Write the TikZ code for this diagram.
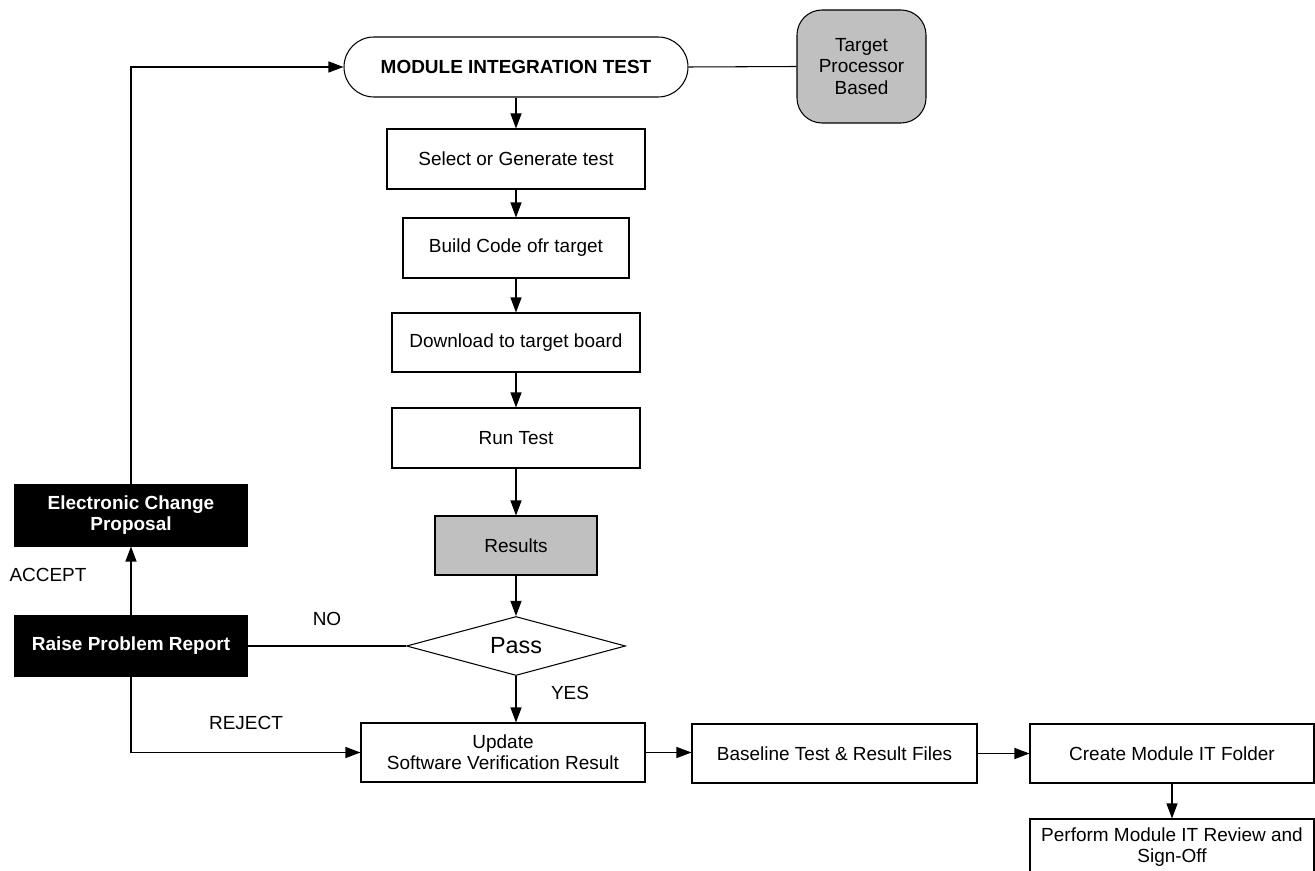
\documentclass[tikz,border=0pt]{standalone}
\usepackage{fontspec}
\setmainfont{Liberation Sans}
\usetikzlibrary{shapes.geometric,arrows.meta}
\definecolor{boxgray}{HTML}{C0C0C0}
\begin{document}
\begin{tikzpicture}[x=0.02cm,y=-0.02cm,
  font=\fontsize{10.8}{12}\selectfont,
  line width=0.6pt,
  sz/.style 2 args={minimum width=#1*0.02cm, minimum height=#2*0.02cm},
  box/.style={draw, rectangle, align=center, inner sep=0pt},
  graybox/.style={box, fill=boxgray},
  blackbox/.style={box, fill=black, text=white, font=\fontsize{10.8}{12}\selectfont\bfseries},
  terminal/.style={box, rounded corners=0.6cm, font=\fontsize{10.8}{12}\selectfont\bfseries},
  decision/.style={draw, diamond, inner sep=0pt, font=\fontsize{13.3}{15}\selectfont},
  lbl/.style={inner sep=0pt},
  flow/.style={-{Triangle[length=0.3cm, width=0.22cm]}},
]
\useasboundingbox (0,0) rectangle (1315,871);

% main column
\node[terminal, sz={344}{60}] (mit) at (516,67) {MODULE INTEGRATION TEST};
\node[graybox, rounded corners=0.5cm, sz={129}{113}] (tpb) at (861.5,66.5) {Target\\Processor\\Based};
\node[box, sz={258}{60}] (sel) at (516,159) {Select or Generate test};
\node[box, sz={226}{60}] (build) at (516,248) {Build Code ofr target};
\node[box, sz={248}{59}] (down) at (516,342.5) {Download to target board};
\node[box, sz={248}{60}] (run) at (516,438) {Run Test};
\node[graybox, sz={162}{59}] (res) at (516,545.5) {Results};
\node[decision, sz={219}{59}, aspect=3.7] (pass) at (516,646) {Pass};

% problem handling
\node[blackbox, sz={232}{61}] (ecp) at (131,515.5) {Electronic Change\\Proposal};
\node[blackbox, sz={232}{60}] (rpr) at (131,646) {Raise Problem Report};

% bottom row
\node[box, sz={284}{59}] (upd) at (503,752.5) {Update\\Software Verification Result};
\node[box, sz={285}{59}] (base) at (834.5,753.5) {Baseline Test \& Result Files};
\node[box, sz={284}{59}] (create) at (1172,753.5) {Create Module IT Folder};
\node[box, sz={284}{57}] (perf) at (1172,847.5) {Perform Module IT Review and\\Sign-Off};

% labels
\node[lbl] (lacc) at (48,575) {ACCEPT};
\node[lbl] (lno) at (327,619) {NO};
\node[lbl] (lyes) at (570,693) {YES};
\node[lbl] (lrej) at (246,723) {REJECT};

% connectors
\draw (mit.east) -- (tpb.west);
\draw[flow] (mit.south) -- (sel.north);
\draw[flow] (sel.south) -- (build.north);
\draw[flow] (build.south) -- (down.north);
\draw[flow] (down.south) -- (run.north);
\draw[flow] (run.south) -- (res.north);
\draw[flow] (res.south) -- (pass.north);
\draw[flow] (pass.south) -- (pass.south |- upd.north);
\draw (rpr.east) -- (pass.west);
\draw[flow] (rpr.north -| ecp.south) -- (ecp.south);
\draw[flow] (ecp.north) -- (ecp.north |- mit.west) -- (mit.west);
\draw[flow] (rpr.south) -- (rpr.south |- upd.west) -- (upd.west);
\draw[flow] (upd.east) -- (upd.east -| base.west);
\draw[flow] (base.east) -- (base.east -| create.west);
\draw[flow] (create.south) -- (perf.north);
\end{tikzpicture}
\end{document}
